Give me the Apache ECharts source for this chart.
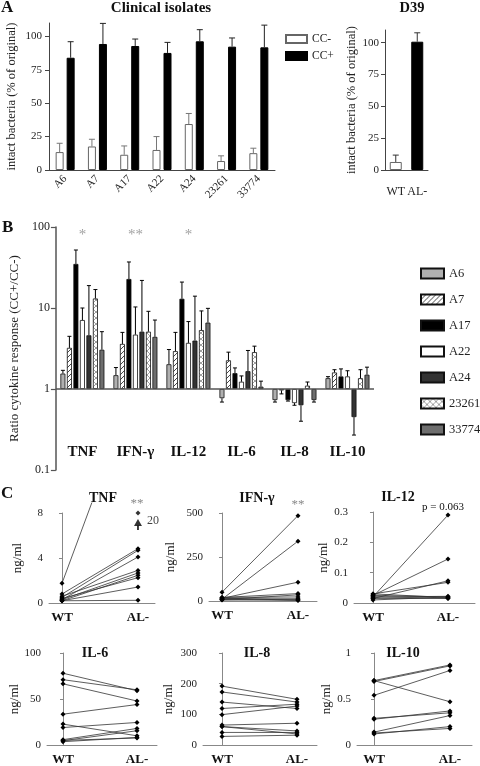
<!DOCTYPE html>
<html><head><meta charset="utf-8">
<script src="https://cdn.jsdelivr.net/npm/echarts@6/dist/echarts.min.js"></script>
<style>html,body{margin:0;padding:0;background:#fff}#c{width:480px;height:766px}</style>
</head><body><div id="c"></div>
<script>
const FONT = '"Liberation Serif","DejaVu Serif",serif';

// ---------- Panel A data ----------
const isolates = ['A6','A7','A17','A22','A24','23261','33774'];
const ccMinus = [13.4,17.6,11.4,15,34.4,6.7,12.6];
const ccMinusErr = [6.6,5.4,6.6,10,7.9,3.9,3.7];
const ccPlus = [84,94.3,92.8,87.6,96.3,92.3,91.8];
const ccPlusErr = [12,15.4,5.2,7.9,8.7,6.5,16.6];
const d39Strains = ['WT','AL-'];
const d39Values = [6.3,100.8];
const d39Err = [5.4,7];

// ---------- Panel B data (ratio CC+/CC-) ----------
const cytokines = ['TNF','IFN-γ','IL-12','IL-6','IL-8','IL-10'];
const strainsB = ['A6','A7','A17','A22','A24','23261','33774'];
const ratioA6    = [1.55,1.48,2.02,0.77,0.73,1.36];
const ratioA7    = [3.22,3.6,2.93,2.26,0.96,1.6];
const ratioA17   = [35,22.8,13,1.57,0.73,1.43];
const ratioA22   = [7.1,4.69,3.71,1.23,0.67,1.43];
const ratioA24   = [4.6,5.1,3.96,1.66,0.63,0.45];
const ratio23261 = [13.1,5.1,5.34,2.85,1.1,1.36];
const ratio33774 = [3.05,4.4,6.6,1.07,0.73,1.5];
const errEndA6    = [1.7,1.84,3.07,0.69,0.69,1.42];
const errEndA7    = [4.47,5.0,5.0,2.85,0.87,1.73];
const errEndA17   = [52,37,20.9,1.82,0.71,1.77];
const errEndA22   = [10,10.3,6.8,1.45,0.63,1.68];
const errEndA24   = [18.9,21.9,14,2.99,0.40,0.27];
const errEnd23261 = [16.9,9.1,9.2,3.38,1.22,1.73];
const errEnd33774 = [5.1,7.1,9.9,1.25,0.69,1.86];
const stars = ['*','**','*','','',''];
const starLevel = 80;

// ---------- Panel C data (ng/ml) ----------
const tnfWT  = [0.8,0.5,0.3,0.6,0.3,0.2,0.4,0.2,0.2,1.75];
const tnfAL  = [4.83,4.68,4.09,2.9,2.67,2.46,2.25,1.42,0.24,20];
const tnfOffscaleCap = 8;
const ifnWT  = [50,10,15,20,8,20,12,5,15,10];
const ifnAL  = [485,340,107,42,35,23,13,8,5,3];
const il12WT = [0.02,0.025,0.015,0.03,0.02,0.01,0.03,0.02,0.015,0.025];
const il12AL = [0.29,0.145,0.073,0.068,0.022,0.02,0.018,0.016,0.015,0.02];
const il6WT  = [78,71,66.5,33.5,22.7,19,5.8,4.7,3.6,5];
const il6AL  = [59,60,47.8,44,10,24.5,18,15.5,8.3,7.6];
const il8WT  = [192,173,140,119,99,65,60,41,28,60];
const il8AL  = [149,140,119,133,127,71,36,41,32,46];
const il10WT = [0.70,0.69,0.54,0.70,0.28,0.29,0.14,0.12,0.13];
const il10AL = [0.87,0.86,0.81,0.47,0.37,0.35,0.32,0.20,0.18];
const pairLabels = ['WT','AL-'];

// ---------- helpers ----------
function pattern(kind){
  const c = document.createElement('canvas');
  const g = c.getContext('2d');
  if (kind === 'hatch'){
    c.width = 5; c.height = 5;
    g.fillStyle = '#fff'; g.fillRect(0,0,5,5);
    g.strokeStyle = '#333'; g.lineWidth = 0.9;
    g.beginPath();
    g.moveTo(0,5); g.lineTo(5,0);
    g.moveTo(-1,1); g.lineTo(1,-1);
    g.moveTo(4,6); g.lineTo(6,4);
    g.stroke();
  } else {
    c.width = 6; c.height = 6;
    g.fillStyle = '#fff'; g.fillRect(0,0,6,6);
    g.strokeStyle = '#888'; g.lineWidth = 0.8;
    g.beginPath();
    g.moveTo(0,0); g.lineTo(6,6);
    g.moveTo(0,6); g.lineTo(6,0);
    g.stroke();
  }
  return {image: c, repeat: 'repeat'};
}
const fillsB = ['#b0b0b0', pattern('hatch'), '#000', '#fff', '#333', pattern('cross'), '#6e6e6e'];
const ratiosB = [ratioA6,ratioA7,ratioA17,ratioA22,ratioA24,ratio23261,ratio33774];
const errEndsB = [errEndA6,errEndA7,errEndA17,errEndA22,errEndA24,errEnd23261,errEnd33774];

function errRender(n, w, gap, cap, colors){
  return function(params, api){
    const c = api.value(0), s = api.value(1), v = api.value(2), e = api.value(3);
    const total = n*w + (n-1)*gap;
    const off = -total/2 + s*(w+gap) + w/2;
    const p1 = api.coord([c, v]), p2 = api.coord([c, e]);
    const x = p1[0] + off;
    const col = colors[s] || '#000';
    return {type:'group', children:[
      {type:'line', shape:{x1:x,y1:p1[1],x2:x,y2:p2[1]}, style:{stroke:col,lineWidth:1}},
      {type:'line', shape:{x1:x-cap,y1:p2[1],x2:x+cap,y2:p2[1]}, style:{stroke:col,lineWidth:1}}
    ]};
  };
}
function txt(text, x, y, size, weight, align, color){
  return {type:'text', x:x, y:y, silent:true, style:{text:text, fontSize:size, fontFamily:FONT, fontWeight:weight, textAlign:align, textVerticalAlign:'middle', fill:color||'#111'}};
}

// ---------- layout ----------
const grids = [
  {left:49, top:23, width:226, height:147},   // 0 A left
  {left:385, top:30, width:43, height:140},   // 1 A right
  {left:52, top:227, width:322, height:243},  // 2 B
  {left:49, top:513, width:106, height:90},   // 3 TNF
  {left:209, top:513, width:108, height:88},  // 4 IFN
  {left:354, top:512, width:121, height:91},  // 5 IL-12
  {left:47, top:653, width:110, height:93},   // 6 IL-6
  {left:203, top:653, width:114, height:93},  // 7 IL-8
  {left:357, top:653, width:115, height:93},  // 8 IL-10
  {left:49, top:503, width:106, height:100}   // 9 TNF overflow (same pixels, extends 10px up)
];
const cPanels = [
  {wt:tnfWT,  al:tnfAL,  yMax:8,   yInt:4,   xMin:-0.171, xMax:1.224, nameGap:25},
  {wt:ifnWT,  al:ifnAL,  yMax:500, yInt:250, xMin:-0.171, xMax:1.25,  nameGap:32},
  {wt:il12WT, al:il12AL, yMax:0.3, yInt:0.1, xMin:-0.253, xMax:1.36,  nameGap:19},
  {wt:il6WT,  al:il6AL,  yMax:100, yInt:50,  xMin:-0.216, xMax:1.27,  nameGap:24},
  {wt:il8WT,  al:il8AL,  yMax:300, yInt:100, xMin:-0.253, xMax:1.267, nameGap:28},
  {wt:il10WT, al:il10AL, yMax:1,   yInt:0.5, xMin:-0.224, xMax:1.29,  nameGap:20}
];

const xAxes = [], yAxes = [], series = [];
const lab = (o) => Object.assign({fontFamily:FONT, fontSize:11, color:'#222'}, o||{});

// Panel A left
xAxes.push({type:'category', gridIndex:0, data:isolates,
  axisLine:{lineStyle:{color:'#444'}}, axisTick:{show:false},
  axisLabel:lab({rotate:45, margin:7, interval:0})});
yAxes.push({type:'value', gridIndex:0, min:0, max:110, interval:25, splitLine:{show:false},
  axisLine:{show:true, lineStyle:{color:'#444'}}, axisTick:{show:true, length:4, lineStyle:{color:'#444'}},
  axisLabel:lab({margin:7, showMaxLabel:false}), name:'intact bacteria (% of original)', nameLocation:'middle', nameGap:31,
  nameTextStyle:{fontFamily:FONT, fontSize:12.5, color:'#222'}});
// Panel A right
xAxes.push({type:'category', gridIndex:1, data:d39Strains,
  axisLine:{lineStyle:{color:'#444'}}, axisTick:{show:false},
  axisLabel:lab({margin:16, fontSize:12, interval:0})});
yAxes.push({type:'value', gridIndex:1, min:0, max:110, interval:25, splitLine:{show:false},
  axisLine:{show:true, lineStyle:{color:'#444'}}, axisTick:{show:true, length:4, lineStyle:{color:'#444'}},
  axisLabel:lab({margin:6, showMaxLabel:false}), name:'intact bacteria (% of original)', nameLocation:'middle', nameGap:27,
  nameTextStyle:{fontFamily:FONT, fontSize:12.5, color:'#222'}});
// Panel B
xAxes.push({type:'category', gridIndex:2, data:cytokines,
  axisLine:{show:false}, axisTick:{show:false},
  axisLabel:{fontFamily:FONT, fontSize:15, fontWeight:'bold', color:'#111', margin:-25, interval:0}});
yAxes.push({type:'log', gridIndex:2, logBase:10, min:0.1, max:100, splitLine:{show:false}, minorTick:{show:false},
  axisLine:{show:true, lineStyle:{color:'#555', width:1.5}}, axisTick:{show:true, length:5, lineStyle:{color:'#555', width:1.2}},
  axisLabel:lab({fontSize:12, margin:6}), name:'Ratio cytokine response (CC+/CC-)', nameLocation:'middle', nameGap:29,
  nameTextStyle:{fontFamily:FONT, fontSize:13, color:'#222'}});
// Panel C
cPanels.forEach((p, k) => {
  const gi = 3 + k;
  xAxes.push({type:'value', gridIndex:gi, min:p.xMin, max:p.xMax, splitLine:{show:false},
    axisLine:{show:true, onZero:false, lineStyle:{color:'#888'}}, axisTick:{show:false},
    axisLabel:{customValues:[0,1], formatter:(v)=> v < 0.5 ? pairLabels[0] : pairLabels[1],
      fontFamily:FONT, fontSize:13, fontWeight:'bold', color:'#111', margin:8}});
  yAxes.push({type:'value', gridIndex:gi, min:0, max:p.yMax, interval:p.yInt, splitLine:{show:false},
    axisLine:{show:true, lineStyle:{color:'#888'}}, axisTick:{show:true, length:3, lineStyle:{color:'#888'}},
    axisLabel:lab({margin:6}), name:'ng/ml', nameLocation:'middle', nameGap:p.nameGap,
    nameTextStyle:{fontFamily:FONT, fontSize:13, color:'#222'}});
});
// TNF overflow axes (hidden), same pixel scale as TNF panel
xAxes.push({type:'value', gridIndex:9, min:cPanels[0].xMin, max:cPanels[0].xMax, show:false});
yAxes.push({type:'value', gridIndex:9, min:0, max:cPanels[0].yMax*grids[9].height/grids[3].height, show:false});

// ---- Series A left
series.push({type:'bar', name:'CC-', xAxisIndex:0, yAxisIndex:0, data:ccMinus, barWidth:8, barGap:'37.5%',
  itemStyle:{color:'#fff', borderColor:'#666', borderWidth:1}});
series.push({type:'bar', name:'CC+', xAxisIndex:0, yAxisIndex:0, data:ccPlus, barWidth:8,
  itemStyle:{color:'#000', borderColor:'#000', borderWidth:1}});
series.push({type:'custom', xAxisIndex:0, yAxisIndex:0, z:3,
  renderItem: errRender(2, 8, 3, 3, ['#777','#222']),
  encode:{x:0, y:[2,3]},
  data: isolates.map((_, i)=>[i,0,ccMinus[i],ccMinus[i]+ccMinusErr[i]])
        .concat(isolates.map((_, i)=>[i,1,ccPlus[i],ccPlus[i]+ccPlusErr[i]]))});
// ---- Series A right
series.push({type:'bar', xAxisIndex:1, yAxisIndex:1, barWidth:12,
  data: d39Values.map((v,i)=>({value:v, itemStyle: i===0 ? {color:'#fff',borderColor:'#666',borderWidth:1} : {color:'#000',borderColor:'#000',borderWidth:1}}))});
series.push({type:'custom', xAxisIndex:1, yAxisIndex:1, z:3,
  renderItem: errRender(1, 12, 0, 3, ['#333']), encode:{x:0, y:[2,3]},
  data: d39Values.map((v,i)=>[i,0,v,v+d39Err[i]])});
// ---- Series B
strainsB.forEach((s, k) => {
  const ser = {type:'bar', name:s, xAxisIndex:2, yAxisIndex:2, data:ratiosB[k], barWidth:5, barGap:'30%',
    itemStyle:{color:fillsB[k], borderColor:'#111', borderWidth:0.8}};
  if (k === 0) ser.markLine = {silent:true, symbol:['none','none'], label:{show:false},
    lineStyle:{color:'#555', width:1.5, type:'solid'}, data:[{yAxis:1}]};
  series.push(ser);
});
const errB = [];
strainsB.forEach((s,k)=> cytokines.forEach((c,i)=> errB.push([i,k,ratiosB[k][i],errEndsB[k][i]])));
series.push({type:'custom', xAxisIndex:2, yAxisIndex:2, z:3,
  renderItem: errRender(7, 5, 1.5, 2, ['#000','#000','#000','#000','#000','#000','#000']),
  encode:{x:0, y:[2,3]}, data: errB});
series.push({type:'scatter', xAxisIndex:2, yAxisIndex:2, symbolSize:0, silent:true,
  data: stars.map((s,i)=> s ? {value:[i, starLevel], label:{formatter:s}} : null).filter(Boolean),
  label:{show:true, position:'inside', fontFamily:FONT, fontSize:15, color:'#888'}});
// ---- Series C
cPanels.forEach((p, k) => {
  const gi = 3 + k;
  p.wt.forEach((w, i) => {
    const a = p.al[i];
    const overflow = a > p.yMax;
    series.push({type:'line', xAxisIndex: overflow ? 9 : gi, yAxisIndex: overflow ? 9 : gi,
      data:[[0,w],[1,a]], symbol:'diamond', symbolSize:5, showSymbol:true, clip:true,
      itemStyle:{color:'#000'}, lineStyle:{color:'#333', width:0.8}, silent:true});
  });
});
// TNF off-scale marker (value shown as "20")
series.push({type:'scatter', xAxisIndex:3, yAxisIndex:3, silent:true,
  data:[[1, tnfOffscaleCap]], symbol:'diamond', symbolSize:5, itemStyle:{color:'#000'}});
series.push({type:'line', xAxisIndex:3, yAxisIndex:3, silent:true, showSymbol:false,
  data:[[1,6.5],[1,6.9]], lineStyle:{color:'#000', width:1.5}});
series.push({type:'scatter', xAxisIndex:3, yAxisIndex:3, silent:true,
  data:[[1,7.15]], symbol:'triangle', symbolSize:[8,7], itemStyle:{color:'#000'},
  label:{show:true, position:'right', distance:5, formatter:String(tnfAL[9]), fontFamily:FONT, fontSize:12, color:'#111', offset:[0,-2]}});

const option = {
  animation:false,
  backgroundColor:'#fff',
  grid: grids.map(g => Object.assign({containLabel:false}, g)),
  xAxis: xAxes, yAxis: yAxes, series: series,
  legend: [
    {data:['CC-','CC+'], left:285, top:33, orient:'vertical', icon:'rect', itemWidth:21, itemHeight:8, itemGap:5,
      padding:0, selectedMode:false, textStyle:{fontFamily:FONT, fontSize:11.5, color:'#222'}},
    {data:strainsB, left:420, top:267, orient:'vertical', icon:'rect', itemWidth:23, itemHeight:10, itemGap:13,
      padding:0, selectedMode:false, textStyle:{fontFamily:FONT, fontSize:12.5, color:'#222'}}
  ],
  graphic: [
    txt('A', 1, 8, 17, 'bold', 'left'),
    txt('Clinical isolates', 161, 8, 15, 'bold', 'center'),
    txt('D39', 412, 8, 14.5, 'bold', 'center'),
    txt('B', 2, 228, 17, 'bold', 'left'),
    txt('C', 1, 494, 17, 'bold', 'left'),
    txt('TNF', 103, 498, 14, 'bold', 'center'),
    txt('IFN-γ', 257, 498, 14, 'bold', 'center'),
    txt('IL-12', 398, 497, 14, 'bold', 'center'),
    txt('IL-6', 95, 653, 14, 'bold', 'center'),
    txt('IL-8', 257, 653, 14, 'bold', 'center'),
    txt('IL-10', 403, 653, 14, 'bold', 'center'),
    txt('**', 137, 504, 13, 'normal', 'center', '#888'),
    txt('**', 298, 505, 13, 'normal', 'center', '#888'),
    txt('p = 0.063', 443, 507, 11, 'normal', 'center', '#111')
  ]
};
const chart = echarts.init(document.getElementById('c'), null, {renderer:'canvas', width:480, height:766});
chart.setOption(option);
</script>
</body></html>
